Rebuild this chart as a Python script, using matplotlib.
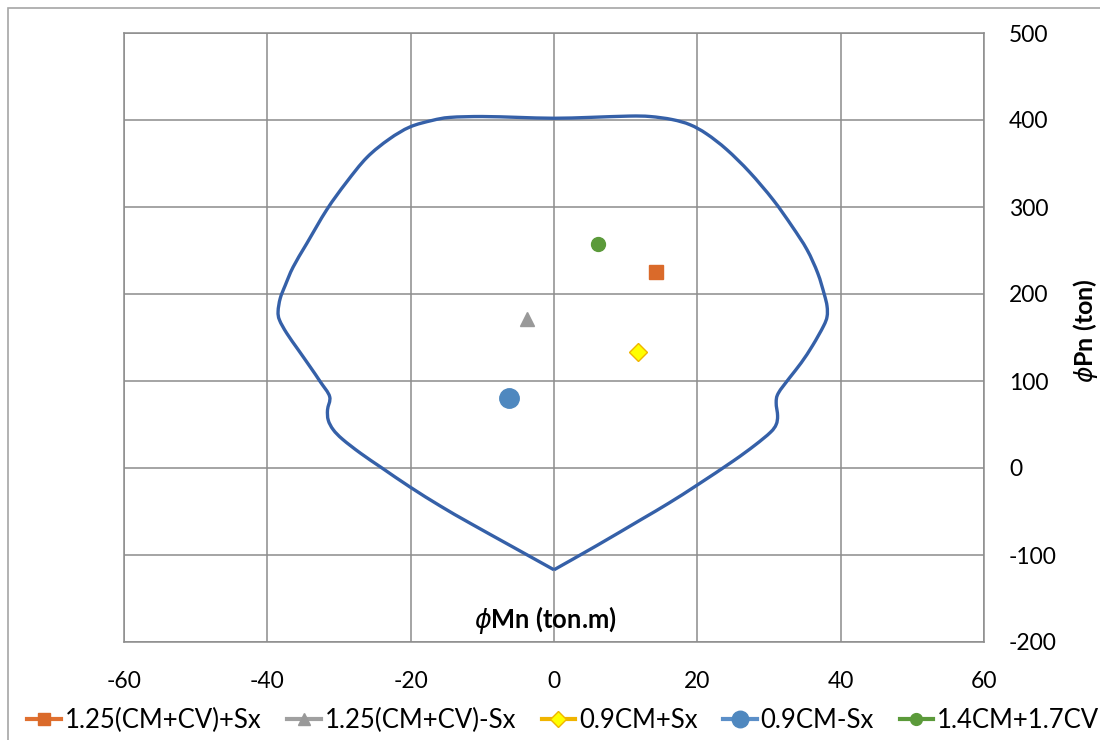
import matplotlib
matplotlib.use("Agg")
import matplotlib.pyplot as plt
from matplotlib.lines import Line2D
from matplotlib.patches import Rectangle, PathPatch
from matplotlib.path import Path

# Interaction diagram outline: phi*Mn (ton.m) vs phi*Pn (ton)
diagram_m = [0, -5.8, -11.7, -15.8, -20.1, -24, -27, -29.5, -30.8, -31.5, -31.6, -31.3,
             -32.6, -34, -35.7, -37.3, -38.3, -38.5, -38.2, -37.5, -36.4, -34.5, -31.7,
             -29, -26.1, -23, -20.1, -17, -14.5, -10, -5, 0, 5, 10.5, 13.4, 16.5, 19,
             21.3, 24.1, 27.3, 30.6, 33.2, 35.3, 36.8, 37.7, 38.1, 38.1, 37.6, 36.1, 34.5,
             32.9, 31.3, 31.0, 31.2, 31.0, 30.2, 28, 25, 20, 16, 12, 6, 0]
diagram_p = [-117, -90.5, -63.5, -44, -21.8, 0, 17, 33, 44, 55, 67, 82,
             99, 116, 136, 155, 170, 180, 195, 210, 231, 258, 297,
             328, 357, 378, 392, 399.5, 403, 404, 403, 402, 403, 404.5, 404, 400.5, 394.5,
             384, 366, 340, 308, 278, 251, 224, 200, 186, 174, 163, 141, 121,
             104, 86, 75, 60, 50, 41, 26, 8, -19.5, -40.5, -60, -89, -117]

# Load combinations
combo_names = ["1.25(CM+CV)+Sx", "1.25(CM+CV)-Sx", "0.9CM+Sx", "0.9CM-Sx", "1.4CM+1.7CV"]
combo_m = [14.2, -3.8, 11.7, -6.3, 6.1]
combo_p = [225, 171, 133, 80, 257]

x_ticks = [-60, -40, -20, 0, 20, 40, 60]
y_ticks = [-200, -100, 0, 100, 200, 300, 400, 500]

combo_styles = [
    dict(marker="s", color="#E07030", mfc="#DA6A2A", mec="#DA6A2A", ms=10.5),
    dict(marker="^", color="#A0A0A0", mfc="#999999", mec="#999999", ms=10),
    dict(marker="D", color="#F0B400", mfc="#FFFF00", mec="#F0B400", ms=9),
    dict(marker="o", color="#5B8FC8", mfc="#4F88BF", mec="#4F88BF", ms=14),
    dict(marker="o", color="#5B9A3A", mfc="#5B9A3A", mec="#5B9A3A", ms=10),
]


def smooth_path(xs, ys):
    """Smoothed line through the given points (Catmull-Rom as cubic Beziers)."""
    pts = list(zip(xs, ys))
    n = len(pts)
    verts = [pts[0]]
    codes = [Path.MOVETO]
    for i in range(n - 1):
        p0 = pts[i - 1] if i > 0 else pts[i]
        p1 = pts[i]
        p2 = pts[i + 1]
        p3 = pts[i + 2] if i + 2 < n else pts[i + 1]
        c1 = (p1[0] + (p2[0] - p0[0]) / 6, p1[1] + (p2[1] - p0[1]) / 6)
        c2 = (p2[0] - (p3[0] - p1[0]) / 6, p2[1] - (p3[1] - p1[1]) / 6)
        verts += [c1, c2, p2]
        codes += [Path.CURVE4] * 3
    return Path(verts, codes)


plt.rcParams["font.family"] = ["Lato", "DejaVu Sans"]
plt.rcParams["mathtext.fontset"] = "dejavusans"

fig = plt.figure(figsize=(11, 7.4), dpi=100)
ax = fig.add_axes([124 / 1100, 1 - 642 / 740, 860 / 1100, 609 / 740])

grid_c = "#8C8C8C"
ax.add_patch(PathPatch(smooth_path(diagram_m, diagram_p), facecolor="none",
                       edgecolor="#3560A8", lw=2.4, zorder=3, joinstyle="round"))

for m, p, st in zip(combo_m, combo_p, combo_styles):
    ax.plot([m], [p], linestyle="none", marker=st["marker"], markersize=st["ms"],
            markerfacecolor=st["mfc"], markeredgecolor=st["mec"], markeredgewidth=1,
            zorder=4)

ax.set_xlim(-60, 60)
ax.set_ylim(-200, 500)
ax.set_xticks(x_ticks)
ax.set_yticks(y_ticks)
ax.set_xticklabels([str(v) for v in x_ticks])
ax.set_yticklabels([str(v) for v in y_ticks])
ax.yaxis.tick_right()
ax.tick_params(axis="both", length=0, labelsize=16.5, colors="black")
ax.tick_params(axis="x", pad=21)
ax.tick_params(axis="y", pad=18)
ax.grid(True, color=grid_c, lw=1.1)
ax.set_axisbelow(True)
for s in ax.spines.values():
    s.set_color(grid_c)
    s.set_linewidth(1.1)

ax.text(0.49, 0.036, r"$\phi$Mn (ton.m)", transform=ax.transAxes, ha="center",
        va="center", fontsize=18.4, fontweight="bold")
fig.text(1085 / 1100, 1 - 331 / 740, r"$\phi$Pn (ton)", rotation=90, ha="center",
         va="center", fontsize=18, fontweight="bold")

handles = [Line2D([0], [0], color=st["color"], lw=3, marker=st["marker"],
                  markersize=st["ms"] * 0.85, markerfacecolor=st["mfc"],
                  markeredgecolor=st["mec"]) for st in combo_styles]
fig.legend(handles, combo_names, loc="center", bbox_to_anchor=(0.512, 1 - 720 / 740),
           ncol=5, frameon=False, fontsize=18.5, handlelength=1.3, handletextpad=0.15,
           columnspacing=1.0)

# Outer chart border
fig.patches.append(Rectangle((8 / 1100, -0.1), 1.2, 1 - 8 / 740 + 0.1,
                             transform=fig.transFigure, fill=False,
                             edgecolor="#A6A6A6", lw=1.2))

fig.savefig("out.png", dpi=100, facecolor="white")
